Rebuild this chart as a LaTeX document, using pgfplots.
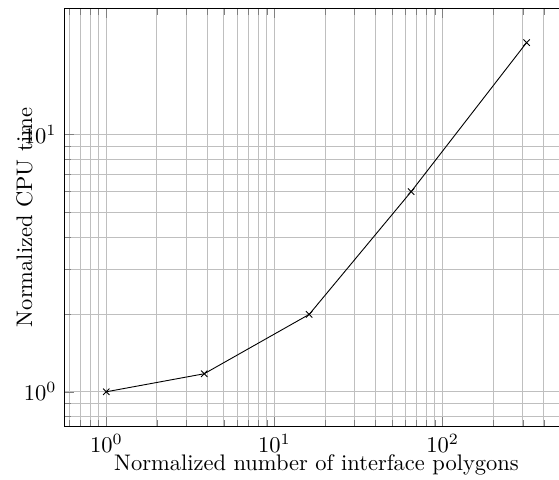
\documentclass[border=0pt]{standalone}
\usepackage{pgfplots}
\pgfplotsset{compat=1.18}
\begin{document}
\begin{tikzpicture}
\path[use as bounding box, clip] (-28.58pt,-23.69pt) rectangle (219.9pt,189.65pt);
\begin{axis}[
  xmode=log, ymode=log,
  scale only axis,
  width=224.2pt, height=185.96pt,
  xmin=0.5623, xmax=562.3,
  ymin=0.7318, ymax=31.0,
  grid=both,
  xlabel={Normalized number of interface polygons},
  ylabel={Normalized CPU time},
  xlabel style={yshift=6.1pt},
  ylabel style={at={(axis description cs:0,0.5)}, anchor=south, yshift=10.6pt},
]
\addplot[black, mark=x] coordinates {
  (1,1) (3.82,1.175) (16.1,2.0) (65,6.0) (316,22.8)
};
\end{axis}
\end{tikzpicture}
\end{document}
